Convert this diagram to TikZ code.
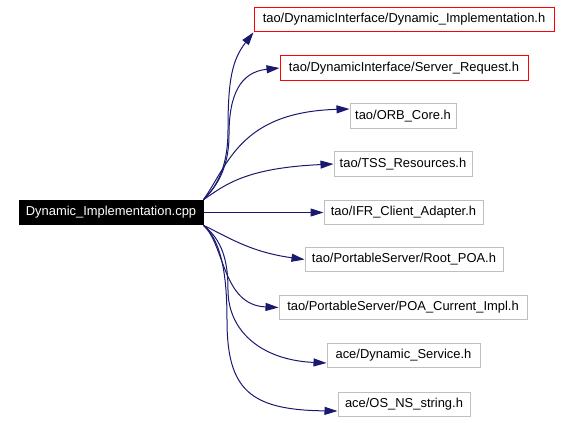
\documentclass[tikz,border=0pt]{standalone}
\usepackage{fontspec}
\setmainfont{Liberation Sans}
\usepackage{tikz}
\usetikzlibrary{arrows.meta,calc}
\definecolor{edgeblue}{HTML}{191970}
\definecolor{boxgray}{HTML}{BFBFBF}

\begin{document}
\begin{tikzpicture}[x=0.75pt,y=-0.75pt
  ,>={Triangle[length=9.75pt,width=6pt]}
  ,font=\fontsize{9.7pt}{11pt}\selectfont]
  \tikzstyle{file}=[draw=boxgray,text=black
  ,line width=0.75pt,inner xsep=1pt,inner ysep=0pt
  ,minimum height=18.5pt]
  \tikzstyle{docfile}=[file,draw=red]
  \tikzstyle{mainfile}=[file,fill=black,draw=black,text=white]
  \tikzstyle{incl}=[->,draw=edgeblue,fill=none,line width=0.75pt]

  \useasboundingbox (0,0) rectangle (571,422);

  % the file itself
  \node[mainfile,minimum width=138pt](src) at (111,212.5) {Dynamic\_Implementation.cpp};
  % included headers, top to bottom
  \node[docfile,minimum width=225pt](dimpl) at (404,19.5) {tao/DynamicInterface/Dynamic\_Implementation.h};
  \node[docfile,minimum width=186pt](sreq) at (404,68) {tao/DynamicInterface/Server\_Request.h};
  \node[file,minimum width=79.5pt](orbc) at (403,116) {tao/ORB\_Core.h};
  \node[file,minimum width=103.5pt](tssr) at (403,164) {tao/TSS\_Resources.h};
  \node[file,minimum width=119.25pt](ifrc) at (403.5,212.5) {tao/IFR\_Client\_Adapter.h};
  \node[file,minimum width=148.5pt](rpoa) at (404,259.5) {tao/PortableServer/Root\_POA.h};
  \node[file,minimum width=186pt](pcur) at (403,307.5) {tao/PortableServer/POA\_Current\_Impl.h};
  \node[file,minimum width=114.75pt](dsvc) at (403.5,355.5) {ace/Dynamic\_Service.h};
  \node[file,minimum width=99pt](osns) at (404,404.5) {ace/OS\_NS\_string.h};

  % upper edges
  \draw[incl] (src.north east) .. controls (215,188) and (228,170) .. (228,130)
    .. controls (228,80) and (232,60) .. (dimpl.south west);
  \draw[incl] (src.north east) .. controls (215,188) and (229,170) .. (229,135)
    .. controls (229,95) and (240,72) .. (sreq.west);
  \draw[incl] (src.north east) .. controls (228,165) and (240,112) .. ($(orbc.west)+(0,-7)$);
  \draw[incl] (src.north east) .. controls (225,185) and (245,168) .. (tssr.west);
  % straight one
  \draw[incl] (src.east) -- (ifrc.west);
  % lower edges
  \draw[incl] (src.south east) .. controls (228,237) and (250,252) .. (rpoa.west);
  \draw[incl] (src.south east) .. controls (225,245) and (222,305) .. (pcur.west);
  \draw[incl] (src.south east) .. controls (222,240) and (228,260) .. (228,290)
    .. controls (228,330) and (260,360) .. ($(dsvc.west)+(0,7.5)$);
  \draw[incl] (src.south east) .. controls (220,240) and (227,270) .. (227,320)
    .. controls (227,390) and (250,410) .. ($(osns.west)+(0,6.5)$);

\end{tikzpicture}
\end{document}
